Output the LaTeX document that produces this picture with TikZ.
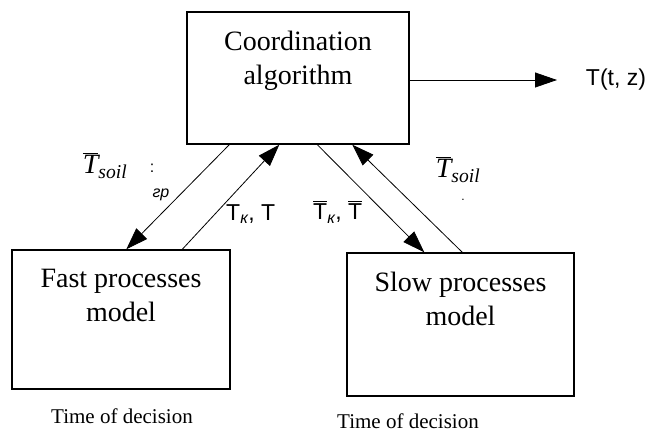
\documentclass[tikz,border=0pt]{standalone}
\usepackage{fontspec}
\setmainfont{Liberation Serif}
\setsansfont{Liberation Sans}
\usetikzlibrary{arrows.meta,calc}
\newcommand\barT[1][1.3pt]{\leavevmode\vbox{\hrule height #1\kern1.6pt\hbox{T}}}
\begin{document}
\begin{tikzpicture}[x=1pt,y=-1pt,
  box/.style={draw,line width=1.4pt,inner sep=0pt},
  boxtext/.style={align=center,font=\fontsize{28}{34}\selectfont,inner sep=0pt,anchor=north},
  arr/.style={line width=0.8pt,-{Triangle[length=22pt,width=15pt]}},
  sans/.style={font=\sffamily\fontsize{23}{26}\selectfont,inner sep=0pt},
  mathlbl/.style={font=\fontsize{28}{32}\selectfont,inner sep=0pt},
  bottomtext/.style={font=\fontsize{21}{24}\selectfont,inner sep=0pt}]
\useasboundingbox (0,0) rectangle (654,443);
\node[box,minimum width=222pt,minimum height=132pt] (coord) at (298,78) {};
\node[box,minimum width=218pt,minimum height=139pt] (fast) at (121,319.5) {};
\node[box,minimum width=227pt,minimum height=143pt] (slow) at (460.5,324.5) {};
\node[boxtext] (coordtxt) at ($(coord.north)+(0,20)$) {Coordination\\algorithm};
\node[boxtext] (fasttxt) at ($(fast.north)+(0,20)$) {Fast processes\\model};
\node[boxtext] (slowtxt) at ($(slow.north)+(0,20)$) {Slow processes\\model};
\draw[arr] ($(coord.south west)+(43,0)$) -- ($(fast.north west)+(115,0)$);
\draw[arr] ($(fast.north west)+(171,0)$) -- ($(coord.south west)+(93,0)$);
\draw[arr] ($(coord.south west)+(131,0)$) -- ($(slow.north west)+(78,0)$);
\draw[arr] ($(slow.north west)+(116,0)$) -- ($(coord.south west)+(166,0)$);
\coordinate (outend) at (557,80);
\draw[arr] (coord.east |- outend) -- (outend);
\node[sans] (out) at (616,80) {T(t, z)};
\node[mathlbl] (tsoilL) at (105,166) {\itshape\barT[1.1pt]\textsubscript{soil}};
\node[sans,font=\sffamily\fontsize{16}{18}\selectfont] (colonL) at (152,168) {:};
\node[sans,font=\sffamily\itshape\fontsize{16}{18}\selectfont] (grL) at (161,195) {гр};
\node[sans,anchor=west] (tkL) at (226,214) {T\textsubscript{\itshape к}, T};
\node[sans,anchor=west] (tkR) at (313,212) {\barT\textsubscript{\itshape к}, \barT};
\node[mathlbl] (tsoilR) at (458,170) {\itshape\barT[1.1pt]\textsubscript{soil}};
\node[sans,font=\sffamily\fontsize{12}{14}\selectfont] (dotR) at (463,200) {.};
\node[bottomtext] (timeL) at (122,416) {Time of decision};
\node[bottomtext] (timeR) at (408,421) {Time of decision};
\end{tikzpicture}
\end{document}
